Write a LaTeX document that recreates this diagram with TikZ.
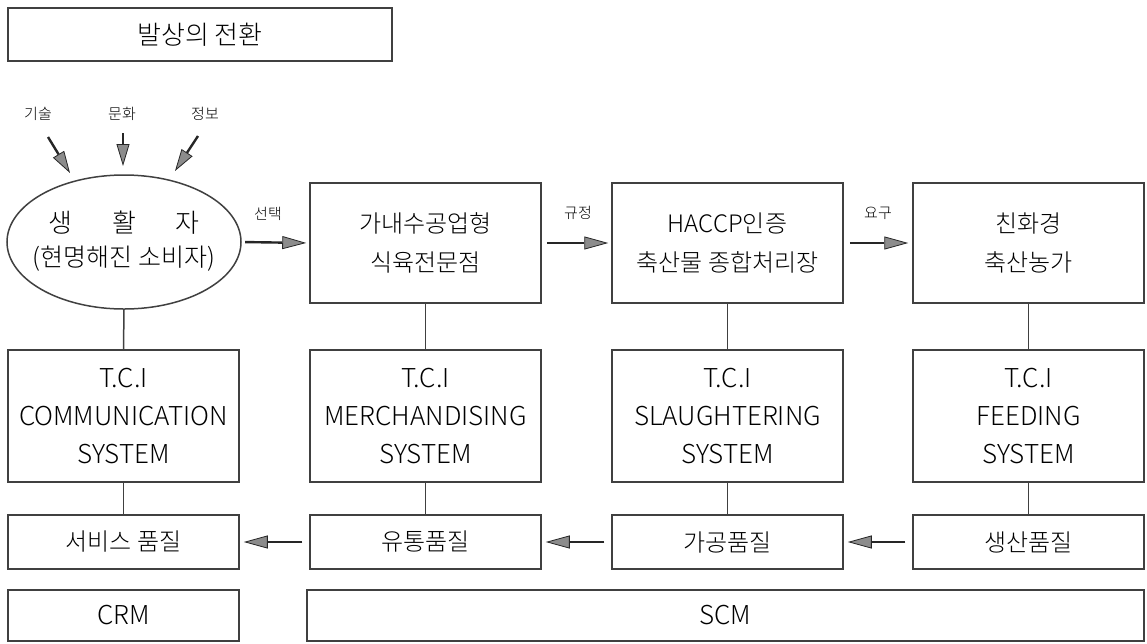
\documentclass[tikz,border=0pt]{standalone}
\usepackage{fontspec}
\IfFontExistsTF{Noto Sans CJK KR Light}{\setmainfont{Noto Sans CJK KR Light}}{\setmainfont{Noto Sans CJK KR}}
\usetikzlibrary{arrows.meta}
\begin{document}
\begin{tikzpicture}[x=1pt,y=-1pt,
  box/.style={draw=black!75, line width=1.5pt, inner sep=0pt, align=center},
  colbox/.style={box, minimum width=231pt},
  ko/.style={font=\fontsize{24}{39}\selectfont},
  en/.style={font=\fontsize{26}{38}\selectfont},
  lab/.style={font=\fontsize{15}{17}\selectfont},
  arr/.style={draw=black!85, line width=2.4pt, -{Triangle[length=24pt,width=13pt,line width=0.8pt,fill=black!45]}},
  conn/.style={draw=black!75, line width=1.5pt}]
\useasboundingbox (0,0) rectangle (1147,643);

% title
\node[box, minimum width=384pt, minimum height=53pt, font=\fontsize{26}{30}\selectfont] (title) at (200,34.5) {발상의 전환};

% influence labels
\node[lab] (l1) at (38,114) {기술};
\node[lab] (l2) at (122,114) {문화};
\node[lab] (l3) at (205,114) {정보};
\coordinate (a1s) at (48,137); \coordinate (a1e) at (70,173);
\coordinate (a2s) at (123,133); \coordinate (a2e) at (123,166);
\coordinate (a3s) at (198,136); \coordinate (a3e) at (175,171);
\draw[arr, -{Triangle[length=22pt,width=13pt,line width=0.8pt,fill=black!45]}] (a1s) -- (a1e);
\draw[arr, -{Triangle[length=22pt,width=13pt,line width=0.8pt,fill=black!45]}] (a2s) -- (a2e);
\draw[arr, -{Triangle[length=22pt,width=13pt,line width=0.8pt,fill=black!45]}] (a3s) -- (a3e);

% ellipse
\draw[draw=black!75, line width=1.5pt] (124,242) ellipse [x radius=117, y radius=67];
\node[inner sep=0pt, minimum width=234pt, minimum height=134pt] (e) at (124,242) {};
\node[font=\fontsize{26}{30}\selectfont] at (124,223) {생\hspace{40pt}활\hspace{40pt}자};
\node[font=\fontsize{25}{30}\selectfont] at (124,259) {(현명해진 소비자)};

% row 1
\node[colbox, ko, minimum height=120pt] (b2) at (425.5,243) {가내수공업형\\식육전문점};
\node[colbox, ko, minimum height=120pt] (b3) at (727.5,243) {HACCP인증\\축산물 종합처리장};
\node[colbox, ko, minimum height=120pt] (b4) at (1028.5,243) {친화경\\축산농가};

% row 2
\node[colbox, en, minimum height=132pt] (s1) at (123.5,416) {T.C.I\\COMMUNICATION\\SYSTEM};
\node[colbox, en, minimum height=132pt] (s2) at (425.5,416) {T.C.I\\MERCHANDISING\\SYSTEM};
\node[colbox, en, minimum height=132pt] (s3) at (727.5,416) {T.C.I\\SLAUGHTERING\\SYSTEM};
\node[colbox, en, minimum height=132pt] (s4) at (1028.5,416) {T.C.I\\FEEDING\\SYSTEM};

% row 3
\node[colbox, ko, minimum height=54pt] (q1) at (123.5,542) {서비스 품질};
\node[colbox, ko, minimum height=54pt] (q2) at (425.5,542) {유통품질};
\node[colbox, ko, minimum height=54pt] (q3) at (727.5,542) {가공품질};
\node[colbox, ko, minimum height=54pt] (q4) at (1028.5,542) {생산품질};

% row 4
\node[colbox, en, minimum height=51pt] (crm) at (123.5,615.5) {CRM};
\node[box, en, minimum width=837pt, minimum height=51pt] (scm) at (725.5,615.5) {SCM};

% top arrows
\draw[arr, shorten <=4pt, shorten >=3pt] (e.east) -- (b2.west);
\node[lab] at (268,214) {선택};
\draw[arr, shorten <=5pt, shorten >=3pt] (b2.east) -- (b3.west);
\node[lab] at (578,213) {규정};
\draw[arr, shorten <=6pt, shorten >=4pt] (b3.east) -- (b4.west);
\node[lab] at (878,213) {요구};

% verticals
\draw[conn] (e.south) -- (s1.north);
\draw[conn] (b2.south) -- (s2.north);
\draw[conn] (b3.south) -- (s3.north);
\draw[conn] (b4.south) -- (s4.north);
\draw[conn] (s1.south) -- (q1.north);
\draw[conn] (s2.south) -- (q2.north);
\draw[conn] (s3.south) -- (q3.north);
\draw[conn] (s4.south) -- (q4.north);

% bottom arrows
\draw[arr, shorten <=7pt, shorten >=4pt] (q2.west) -- (q1.east);
\draw[arr, shorten <=7pt, shorten >=4pt] (q3.west) -- (q2.east);
\draw[arr, shorten <=7pt, shorten >=4pt] (q4.west) -- (q3.east);
\end{tikzpicture}
\end{document}
